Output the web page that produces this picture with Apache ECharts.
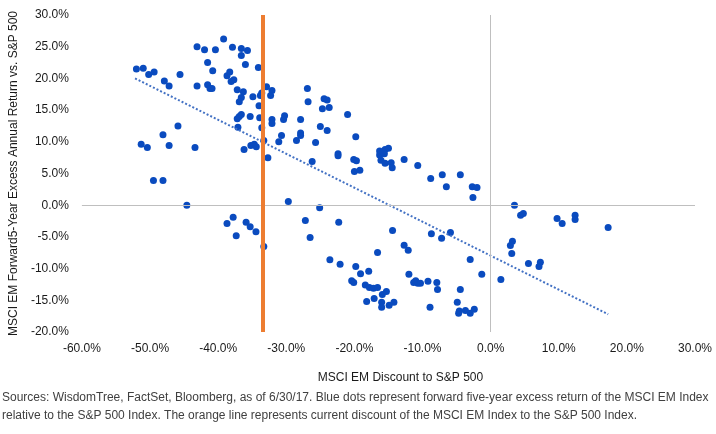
<!DOCTYPE html>
<html>
<head>
    <meta charset="utf-8">
    <script src="https://cdn.jsdelivr.net/npm/echarts@6.0.0/dist/echarts.min.js"></script>
    <style>
        * { margin: 0; padding: 0; box-sizing: border-box; }
        body { background: #fff; }
        #chart { width: 716px; height: 434px; }
    </style>
</head>
<body>
    <div id="chart"></div>
    <script>
        // MSCI EM discount to S&P 500 (%), one per dot
        const emDiscount = [
            -52.0, -51.0, -50.2, -49.4, -47.9, -47.2, -45.6, -43.1, -42.0, -40.4,
            -39.2, -37.9, -36.6, -35.7, -36.6, -41.55, -40.8, -36.0, -34.1, -38.7,
            -38.3, -37.7, -38.1, -43.1, -41.55, -41.2, -40.9, -37.2, -36.3, -34.9,
            -33.6, -33.8, -36.6, -36.9, -34.0, -37.2, -36.9, -36.6, -35.3, -33.9,
            -37.1, -33.6, -45.9, -48.1, -51.3, -50.4, -47.2, -43.4, -35.2, -34.7,
            -34.4, -36.2, -33.3,
            -49.5, -48.1, -44.6, -38.7, -37.8, -37.35, -35.9, -35.3, -34.45, -33.3,
            -32.9, -32.1, -32.3, -32.1, -32.1, -30.25, -30.4, -27.9, -26.9, -26.8,
            -24.45, -24.0, -24.7, -23.7, -21.0, -25.0, -24.0, -27.9, -27.9, -30.7,
            -31.1, -28.5, -25.7, -32.7, -26.2, -19.8, -22.4, -22.4, -20.1, -19.7,
            -20.0, -19.2, -16.3, -15.5, -15.0, -16.3, -15.6, -16.1, -15.5, -14.6,
            -14.45, -15.8, -12.7, -10.7, -8.8, -7.1, -4.45,
            -6.5, -2.7, -2.0, -2.6, -29.7, -27.2, -26.5, -25.1, -22.3, -23.6,
            -22.1, -19.8, -19.1, -17.9, -16.6, -20.4, -20.1, -18.4, -17.8, -17.2,
            -16.6, -15.9, -15.3, -18.2, -17.1, -16.0, -16.0, -14.9, -14.2, -14.4,
            -12.7, -12.1, -12.0, -11.0, -10.7, -10.3, -11.3, -9.2, -7.9, -7.8,
            -8.9, -8.7, -7.2, -5.9, -3.0, -1.3, -4.45, -4.9, -4.7, -4.6,
            -3.7, -3.0, -2.4, 1.5,
            3.5, 4.4, 4.8, 9.75, 10.5, 12.4, 12.4, 17.25, 3.2, 2.9,
            3.1, 5.55, 7.3, 7.1
        ];
        // forward 5-year excess annual return vs S&P 500 (%)
        const excessReturn = [
            21.5, 21.6, 20.6, 21.0, 19.6, 18.8, 20.6, 25.0, 24.5, 24.5,
            26.2, 24.9, 24.7, 24.4, 23.6, 22.5, 21.2, 22.2, 21.7, 20.4,
            21.0, 19.8, 19.5, 18.8, 19.0, 18.4, 18.4, 18.2, 17.9, 17.1,
            17.7, 17.3, 17.0, 16.3, 15.7, 13.65, 14.0, 14.3, 14.0, 13.8,
            12.3, 12.2, 12.5, 11.1, 9.6, 9.1, 9.4, 9.1, 9.4, 9.6,
            9.2, 8.8, 10.2,
            3.9, 3.9, 0.0, -2.9, -1.9, -4.8, -2.7, -3.4, -4.2, -6.5,
            18.7, 18.1, 17.3, 13.5, 12.9, 14.1, 13.5, 13.5, 18.4, 16.3,
            16.8, 16.6, 15.2, 15.4, 14.3, 12.4, 11.8, 11.4, 11.0, 11.0,
            10.0, 10.2, 9.9, 7.5, 6.9, 10.8, 8.1, 7.8, 7.2, 7.0,
            5.3, 5.5, 8.55, 8.8, 9.0, 7.9, 8.1, 7.1, 6.6, 6.7,
            5.9, 8.4, 7.2, 6.25, 4.2, 4.8, 4.8,
            2.9, 2.9, 2.8, 1.2, 0.6, -2.4, -5.1, -0.4, -2.7, -8.6,
            -9.3, -9.65, -10.8, -10.4, -7.45, -11.9, -12.2, -12.6, -13.0, -13.1,
            -13.0, -14.1, -13.6, -15.2, -14.7, -15.3, -16.1, -15.8, -15.3, -4.0,
            -6.3, -7.1, -10.9, -11.9, -12.3, -12.3, -12.2, -12.0, -12.2, -13.3,
            -16.1, -4.5, -5.2, -4.3, -8.55, -10.9, -13.3, -15.3, -17.05, -16.7,
            -16.6, -17.05, -16.4, -11.7,
            0.0, -1.6, -1.3, -2.1, -2.9, -1.6, -2.25, -3.5, -5.7, -6.35,
            -7.6, -9.2, -9.0, -9.65
        ];
        // linear trend line end points
        const trendX = [-52.2, 17.25];
        const trendY = [20.0, -17.2];
        // current discount (orange line)
        const currentDiscount = -33.5;

        const xTicks = { min: -60, max: 30, step: 10 };
        const yTicks = { min: -20, max: 30, step: 5 };

        const font = 'Liberation Sans, Arial, sans-serif';
        const pct = v => v.toFixed(1) + '%';

        const chart = echarts.init(document.getElementById('chart'));

        chart.setOption({
            animation: false,
            grid: { left: 74, right: 21, top: 15, bottom: 102 },
            xAxis: {
                type: 'value',
                min: xTicks.min, max: xTicks.max, interval: xTicks.step,
                axisLine: { show: false },
                axisTick: { show: false },
                splitLine: { show: false },
                axisLabel: { formatter: pct, color: '#1a1a1a', fontSize: 12, fontFamily: font, margin: 11 },
                name: 'MSCI EM Discount to S&P 500',
                nameLocation: 'middle',
                nameGap: 40,
                nameTextStyle: { color: '#1a1a1a', fontSize: 12, fontFamily: font, padding: [0, 0, 0, 24] }
            },
            yAxis: {
                type: 'value',
                min: yTicks.min, max: yTicks.max, interval: yTicks.step,
                axisLine: { show: false },
                axisTick: { show: false },
                splitLine: { show: false },
                axisLabel: { formatter: pct, color: '#1a1a1a', fontSize: 12, fontFamily: font, margin: 13 },
                name: 'MSCI EM Forward5-Year Excess Annual Return vs. S&P 500',
                nameLocation: 'middle',
                nameGap: 56,
                nameTextStyle: { color: '#1a1a1a', fontSize: 12, fontFamily: font }
            },
            series: [
                {
                    // zero lines
                    type: 'line',
                    data: [],
                    silent: true,
                    markLine: {
                        silent: true,
                        symbol: 'none',
                        label: { show: false },
                        lineStyle: { color: '#bfbfbf', width: 1, type: 'solid' },
                        data: [{ xAxis: 0 }, { yAxis: 0 }]
                    }
                },
                {
                    type: 'scatter',
                    symbolSize: 7,
                    itemStyle: { color: '#0a4bbf', opacity: 1 },
                    data: emDiscount.map((x, i) => [x, excessReturn[i]]),
                    z: 3
                },
                {
                    type: 'line',
                    symbol: 'none',
                    data: trendX.map((x, i) => [x, trendY[i]]),
                    lineStyle: { color: '#4472c4', width: 2, type: [2, 2] },
                    z: 4
                },
                {
                    type: 'line',
                    data: [],
                    z: 5,
                    markLine: {
                        silent: true,
                        symbol: 'none',
                        label: { show: false },
                        lineStyle: { color: '#ed7d31', width: 4, type: 'solid' },
                        data: [{ xAxis: currentDiscount }]
                    }
                }
            ],
            graphic: [{
                type: 'text',
                left: 2,
                top: 389,
                style: {
                    text: 'Sources: WisdomTree, FactSet, Bloomberg, as of 6/30/17. Blue dots represent forward five-year excess return of the MSCI EM Index\nrelative to the S&P 500 Index. The orange line represents current discount of the MSCI EM Index to the S&P 500 Index.',
                    font: '12px ' + font,
                    fill: '#404040',
                    lineHeight: 18
                }
            }]
        });
    </script>
</body>
</html>
